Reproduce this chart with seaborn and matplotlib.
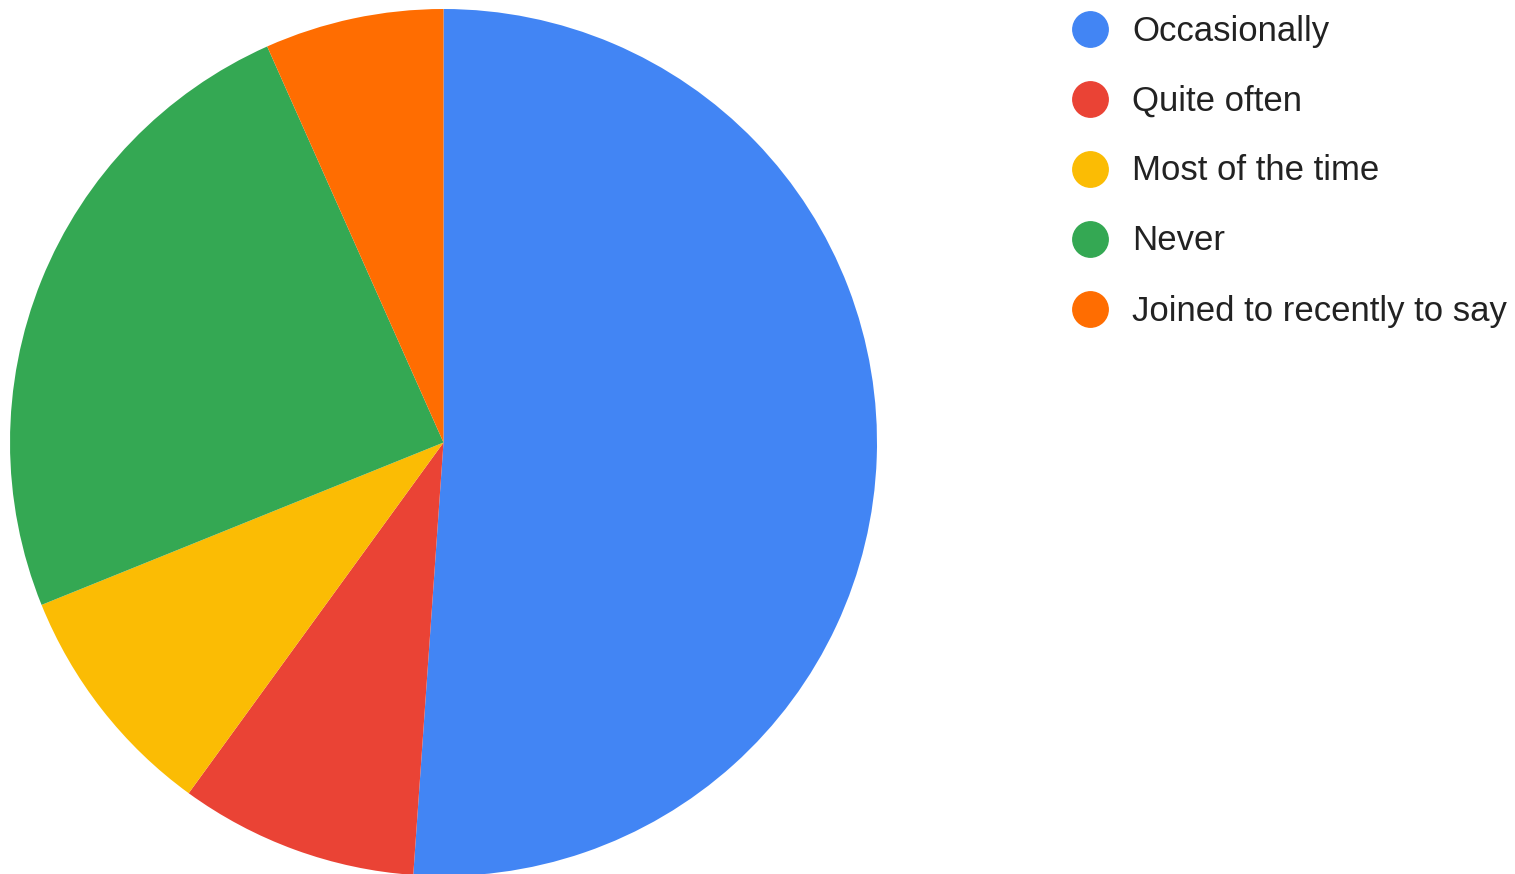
import matplotlib
matplotlib.use("Agg")
import matplotlib.pyplot as plt
import seaborn as sns

# Survey responses
categories = ["Occasionally", "Quite often", "Most of the time", "Never",
              "Joined to recently to say"]
counts = [23, 4, 4, 11, 3]
colors = ["#4285F4", "#EA4335", "#FBBC04", "#34A853", "#FF6D01"]

sns.set_theme(style="white")
plt.rcParams["font.family"] = ["Liberation Sans", "DejaVu Sans"]

W, H = 1515, 874
fig = plt.figure(figsize=(W / 100, H / 100), dpi=100)
fig.patch.set_facecolor("white")

# Pie area (pixel box converted to figure fractions)
pie_left, pie_top, pie_size = 10, 9, 867
ax = fig.add_axes([pie_left / W, (H - pie_top - pie_size) / H, pie_size / W, pie_size / H])
palette = sns.color_palette(colors)
ax.pie(counts, colors=palette, startangle=90, counterclock=False, radius=1,
       wedgeprops=dict(linewidth=0))
ax.set_xlim(-1, 1)
ax.set_ylim(-1, 1)
ax.set_aspect("equal")
ax.axis("off")

# Legend drawn in pixel coordinates on an overlay axes
lax = fig.add_axes([0, 0, 1, 1])
lax.set_xlim(0, W)
lax.set_ylim(H, 0)
lax.axis("off")
row_top, row_step = 29, 70
for i, (lab, col) in enumerate(zip(categories, palette)):
    y = row_top + i * row_step
    lax.plot([1090], [y], marker="o", markersize=25.5, color=col, linestyle="none")
    lax.text(1132, y + 2, lab, fontsize=25, color="#222222", va="center", ha="left")

fig.savefig("out.png", dpi=100, facecolor="white")
